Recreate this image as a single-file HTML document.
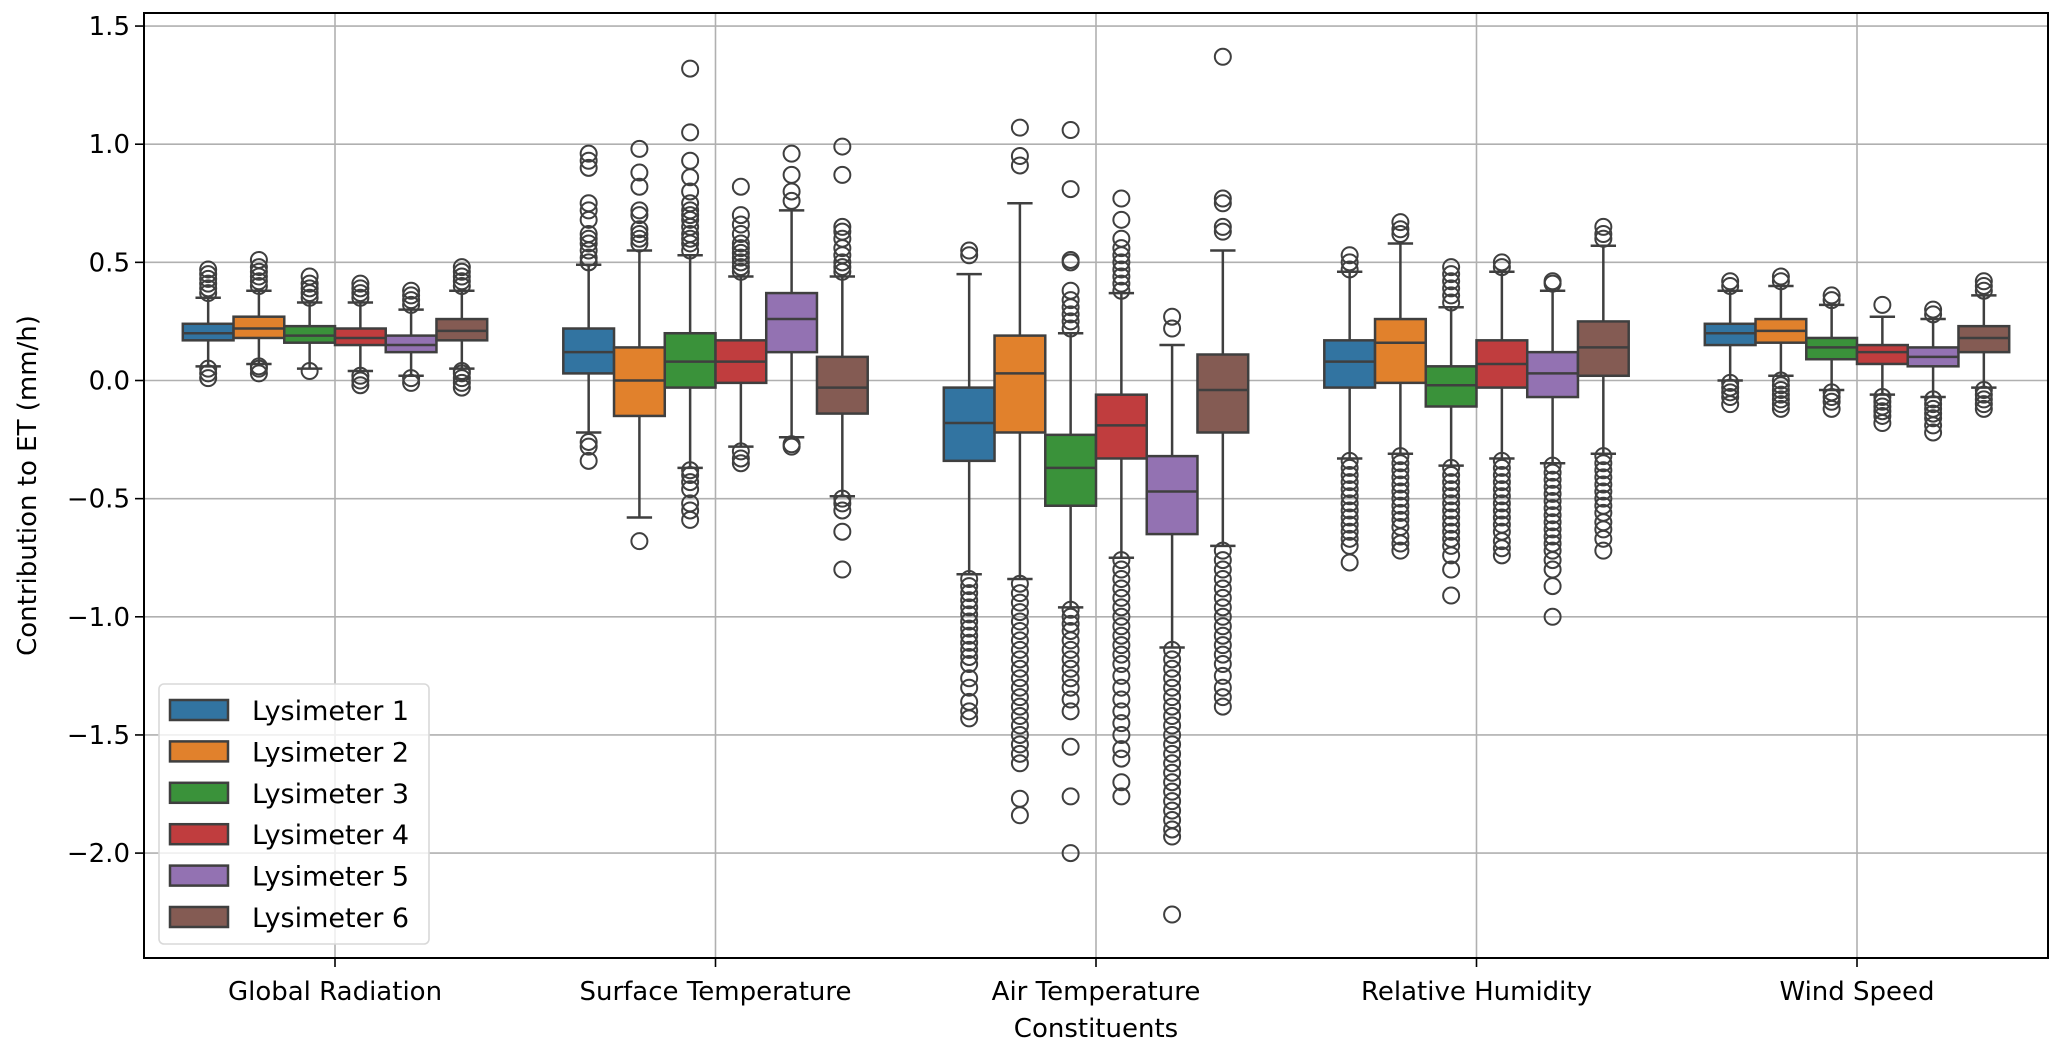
<!DOCTYPE html>
<html><head><meta charset="utf-8"><style>
body{margin:0;background:#fff;}
svg{display:block;font-family:"DejaVu Sans","Liberation Sans",sans-serif;}
</style></head><body>
<svg id="chart" width="2067" height="1051" viewBox="0 0 2067 1051" xmlns="http://www.w3.org/2000/svg"></svg>
<script>
const categories=["Global Radiation","Surface Temperature","Air Temperature","Relative Humidity","Wind Speed"];
const seriesNames=["Lysimeter 1","Lysimeter 2","Lysimeter 3","Lysimeter 4","Lysimeter 5","Lysimeter 6"];
const colors=["#3274a1","#e1812c","#3a923a","#c03d3e","#9372b2","#845b53"];
const yTicks=[1.5,1.0,0.5,0.0,-0.5,-1.0,-1.5,-2.0];
const yTickLabels=["1.5","1.0","0.5","0.0","\u22120.5","\u22121.0","\u22121.5","\u22122.0"];
// [q1, median, q3, whiskerLow, whiskerHigh] per category per series
const q1=[[0.17,0.18,0.16,0.15,0.12,0.17],[0.03,-0.15,-0.03,-0.01,0.12,-0.14],[-0.34,-0.22,-0.53,-0.33,-0.65,-0.22],[-0.03,-0.01,-0.11,-0.03,-0.07,0.02],[0.15,0.16,0.09,0.07,0.06,0.12]];
const medians=[[0.20,0.22,0.19,0.18,0.15,0.21],[0.12,0.0,0.08,0.08,0.26,-0.03],[-0.18,0.03,-0.37,-0.19,-0.47,-0.04],[0.08,0.16,-0.02,0.07,0.03,0.14],[0.20,0.21,0.14,0.12,0.10,0.18]];
const q3=[[0.24,0.27,0.23,0.22,0.19,0.26],[0.22,0.14,0.20,0.17,0.37,0.10],[-0.03,0.19,-0.23,-0.06,-0.32,0.11],[0.17,0.26,0.06,0.17,0.12,0.25],[0.24,0.26,0.18,0.15,0.14,0.23]];
const whiskerLow=[[0.06,0.07,0.05,0.04,0.02,0.05],[-0.22,-0.58,-0.37,-0.28,-0.24,-0.49],[-0.82,-0.84,-0.96,-0.75,-1.13,-0.70],[-0.33,-0.31,-0.36,-0.33,-0.35,-0.31],[0.0,0.02,-0.04,-0.06,-0.07,-0.03]];
const whiskerHigh=[[0.35,0.38,0.33,0.33,0.30,0.38],[0.49,0.55,0.53,0.44,0.72,0.44],[0.45,0.75,0.20,0.37,0.15,0.55],[0.46,0.58,0.31,0.46,0.38,0.57],[0.38,0.40,0.32,0.27,0.26,0.36]];
const outliers=[
[[0.37,0.39,0.41,0.43,0.45,0.47,0.01,0.03,0.05],[0.40,0.42,0.44,0.46,0.48,0.51,0.03,0.05,0.06],[0.35,0.37,0.39,0.41,0.44,0.04],[0.35,0.37,0.39,0.41,-0.02,0.0,0.02],[0.32,0.34,0.36,0.38,-0.01,0.01],[0.40,0.42,0.44,0.46,0.48,-0.03,-0.01,0.01,0.03,0.04]],
[[0.5,0.52,0.55,0.58,0.6,0.62,0.68,0.72,0.75,0.9,0.93,0.96,-0.26,-0.28,-0.34],[0.58,0.6,0.62,0.64,0.7,0.72,0.82,0.88,0.98,-0.68],[0.55,0.58,0.6,0.62,0.65,0.68,0.7,0.72,0.75,0.8,0.86,0.93,1.05,1.32,-0.38,-0.4,-0.43,-0.46,-0.52,-0.55,-0.59],[0.46,0.48,0.5,0.52,0.54,0.56,0.58,0.62,0.66,0.7,0.82,-0.3,-0.33,-0.35],[0.76,0.8,0.87,0.96,-0.27,-0.28],[0.46,0.48,0.5,0.53,0.56,0.6,0.63,0.65,0.87,0.99,-0.5,-0.52,-0.55,-0.64,-0.8]],
[[0.53,0.55,-0.84,-0.87,-0.9,-0.93,-0.96,-0.99,-1.02,-1.05,-1.08,-1.11,-1.14,-1.17,-1.2,-1.26,-1.3,-1.36,-1.4,-1.43],[0.91,0.95,1.07,-0.86,-0.9,-0.94,-0.98,-1.02,-1.06,-1.1,-1.14,-1.18,-1.22,-1.26,-1.3,-1.34,-1.38,-1.42,-1.46,-1.5,-1.54,-1.58,-1.62,-1.77,-1.84],[0.22,0.25,0.28,0.31,0.34,0.38,0.5,0.51,0.81,1.06,-0.97,-1.0,-1.03,-1.06,-1.1,-1.14,-1.18,-1.22,-1.26,-1.3,-1.35,-1.4,-1.55,-1.76,-2.0],[0.38,0.41,0.44,0.47,0.5,0.53,0.56,0.6,0.68,0.77,-0.76,-0.8,-0.84,-0.88,-0.92,-0.96,-1.0,-1.04,-1.08,-1.12,-1.16,-1.2,-1.25,-1.3,-1.35,-1.4,-1.45,-1.5,-1.56,-1.6,-1.7,-1.76],[0.22,0.27,-1.14,-1.18,-1.22,-1.26,-1.3,-1.34,-1.38,-1.42,-1.46,-1.5,-1.54,-1.58,-1.62,-1.66,-1.7,-1.74,-1.78,-1.82,-1.86,-1.9,-1.93,-2.26],[0.63,0.65,0.75,0.77,1.37,-0.72,-0.76,-0.8,-0.84,-0.88,-0.92,-0.96,-1.0,-1.04,-1.08,-1.12,-1.16,-1.2,-1.25,-1.3,-1.34,-1.38]],
[[0.47,0.5,0.53,-0.34,-0.37,-0.4,-0.43,-0.46,-0.49,-0.52,-0.55,-0.58,-0.61,-0.64,-0.67,-0.7,-0.77],[0.62,0.64,0.67,-0.32,-0.35,-0.38,-0.41,-0.44,-0.47,-0.5,-0.53,-0.56,-0.59,-0.62,-0.66,-0.69,-0.72],[0.33,0.36,0.39,0.42,0.45,0.48,-0.37,-0.4,-0.43,-0.46,-0.49,-0.52,-0.55,-0.58,-0.61,-0.64,-0.67,-0.7,-0.74,-0.8,-0.91],[0.48,0.5,-0.34,-0.37,-0.4,-0.43,-0.46,-0.49,-0.52,-0.55,-0.58,-0.61,-0.64,-0.68,-0.71,-0.74],[0.41,0.42,-0.36,-0.39,-0.42,-0.45,-0.48,-0.51,-0.54,-0.57,-0.6,-0.63,-0.66,-0.69,-0.72,-0.76,-0.8,-0.87,-1.0],[0.6,0.62,0.65,-0.32,-0.35,-0.38,-0.41,-0.44,-0.47,-0.5,-0.53,-0.56,-0.6,-0.63,-0.67,-0.72]],
[[0.4,0.42,-0.01,-0.03,-0.05,-0.07,-0.1],[0.42,0.44,0.0,-0.02,-0.04,-0.06,-0.08,-0.1,-0.12],[0.34,0.36,-0.05,-0.07,-0.09,-0.12],[0.32,-0.07,-0.09,-0.11,-0.13,-0.15,-0.18],[0.28,0.3,-0.08,-0.1,-0.12,-0.14,-0.16,-0.19,-0.22],[0.38,0.4,0.42,-0.04,-0.06,-0.08,-0.1,-0.12]]
];
const svg=document.getElementById('chart');
const NS="http://www.w3.org/2000/svg";
const L=144,R=2048,T=13,B=958;
const catStep=380.5,cat0=335;
const yScale=v=>380.5-v*236.3;
const xCat=i=>cat0+i*catStep;
const boxW=catStep*0.8/6;
function mk(tag,attrs,parent){const e=document.createElementNS(NS,tag);for(const k in attrs)e.setAttribute(k,attrs[k]);(parent||svg).appendChild(e);return e;}
const grid=mk('g',{});


yTicks.forEach((v,i)=>{
  const y=yScale(v);
  const gl=mk('line',{x1:L,x2:R,y1:y,y2:y,stroke:'#b0b0b0','stroke-width':1.6},grid);
  
  
  mk('line',{x1:L-9,x2:L,y1:y,y2:y,stroke:'#000','stroke-width':1.6});
  const t=mk('text',{x:L-14,y:y+9,'text-anchor':'end','font-size':26,fill:'#000'});
  t.textContent=yTickLabels[i];
  
  
});
categories.forEach((c,i)=>{
  const x=xCat(i);
  const gl=mk('line',{x1:x,x2:x,y1:T,y2:B,stroke:'#b0b0b0','stroke-width':1.6},grid);
  
  
  mk('line',{x1:x,x2:x,y1:B,y2:B+9,stroke:'#000','stroke-width':1.6});
  const t=mk('text',{x:x,y:B+42,'text-anchor':'middle','font-size':26,fill:'#000'});
  t.textContent=c;
  
  
});
const ec='#3f3f3f';
categories.forEach((c,ci)=>{
  seriesNames.forEach((s,si)=>{
    const cx=xCat(ci)+(si-2.5)*boxW;
    const g=mk('g',{});
    
    
    const y1=yScale(q3[ci][si]),y0=yScale(q1[ci][si]);
    mk('line',{x1:cx,x2:cx,y1:yScale(whiskerHigh[ci][si]),y2:y1,stroke:ec,'stroke-width':2.5},g);
    mk('line',{x1:cx,x2:cx,y1:y0,y2:yScale(whiskerLow[ci][si]),stroke:ec,'stroke-width':2.5},g);
    [whiskerHigh[ci][si],whiskerLow[ci][si]].forEach(v=>mk('line',{x1:cx-boxW/4,x2:cx+boxW/4,y1:yScale(v),y2:yScale(v),stroke:ec,'stroke-width':2.5},g));
    mk('rect',{x:cx-boxW/2,y:y1,width:boxW,height:y0-y1,fill:colors[si],stroke:ec,'stroke-width':2.5},g);
    mk('line',{x1:cx-boxW/2,x2:cx+boxW/2,y1:yScale(medians[ci][si]),y2:yScale(medians[ci][si]),stroke:ec,'stroke-width':2.5},g);
    outliers[ci][si].forEach(v=>{
      const o=mk('circle',{cx:cx,cy:yScale(v),r:8,fill:'none',stroke:ec,'stroke-width':2},g);
      
      
    });
  });
});
mk('rect',{x:L,y:T,width:R-L,height:B-T,fill:'none',stroke:'#000','stroke-width':2});
const yl=mk('text',{x:36,y:(T+B)/2,'text-anchor':'middle','font-size':26,transform:`rotate(-90 36 ${(T+B)/2})`});
yl.textContent='Contribution to ET (mm/h)';


const xl=mk('text',{x:(L+R)/2,y:1037,'text-anchor':'middle','font-size':26});
xl.textContent='Constituents';


const lg=mk('g',{});


mk('rect',{x:159,y:684,width:270,height:260,rx:5,fill:'#fff','fill-opacity':0.8,stroke:'#d9d9d9','stroke-width':1.6},lg);
seriesNames.forEach((s,i)=>{
  const y=710+i*41.4;
  const e=mk('g',{},lg);
  
  
  mk('rect',{x:170,y:y-10,width:58,height:20,fill:colors[i],stroke:ec,'stroke-width':2.5},e);
  const t=mk('text',{x:252,y:y+10,'font-size':27},e);
  t.textContent=s;
});
</script>
</body></html>
